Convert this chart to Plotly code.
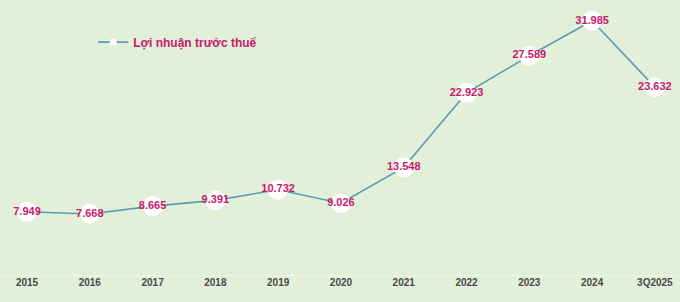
import plotly.graph_objects as go

categories = ["2015", "2016", "2017", "2018", "2019", "2020", "2021", "2022", "2023", "2024", "3Q2025"]
profit = [7.949, 7.668, 8.665, 9.391, 10.732, 9.026, 13.548, 22.923, 27.589, 31.985, 23.632]
labels = [f"{v:.3f}" for v in profit]
series_name = "Lợi nhuận trước thuế"

line_color = "#5B9BB6"
label_color = "#CA1A6C"
bg = "#E2EFD9"

fig = go.Figure()
fig.add_trace(go.Scatter(
    x=categories, y=profit, mode="lines+markers+text",
    text=labels, textposition="middle center",
    textfont=dict(family="Liberation Sans", size=11, color=label_color, weight="bold"),
    line=dict(color=line_color, width=1.6),
    marker=dict(size=20, color="white"),
    showlegend=False, cliponaxis=False,
))
# legend entry
fig.add_trace(go.Scatter(
    x=[None], y=[None], mode="lines+markers", name=series_name,
    line=dict(color=line_color, width=1.6),
    marker=dict(size=7, color="white"),
))

fig.update_layout(
    width=680, height=302,
    margin=dict(l=0, r=0, t=0, b=27),
    paper_bgcolor=bg, plot_bgcolor=bg,
    showlegend=True,
    legend=dict(x=0.137, y=0.847, xanchor="left", yanchor="middle",
                bgcolor="rgba(0,0,0,0)",
                font=dict(family="Liberation Sans", size=12, color=label_color, weight="bold")),
    xaxis=dict(type="category", range=[-0.43, 10.4], showgrid=False,
               showline=False, zeroline=False, ticks="",
               tickfont=dict(family="Liberation Sans", size=10, color="#4A4A4A", weight="bold")),
    yaxis=dict(range=[0, 34.6], showgrid=False, showticklabels=False,
               zeroline=True, zerolinecolor="#EDF5E8", zerolinewidth=1),
)
fig.write_html("out.html")
